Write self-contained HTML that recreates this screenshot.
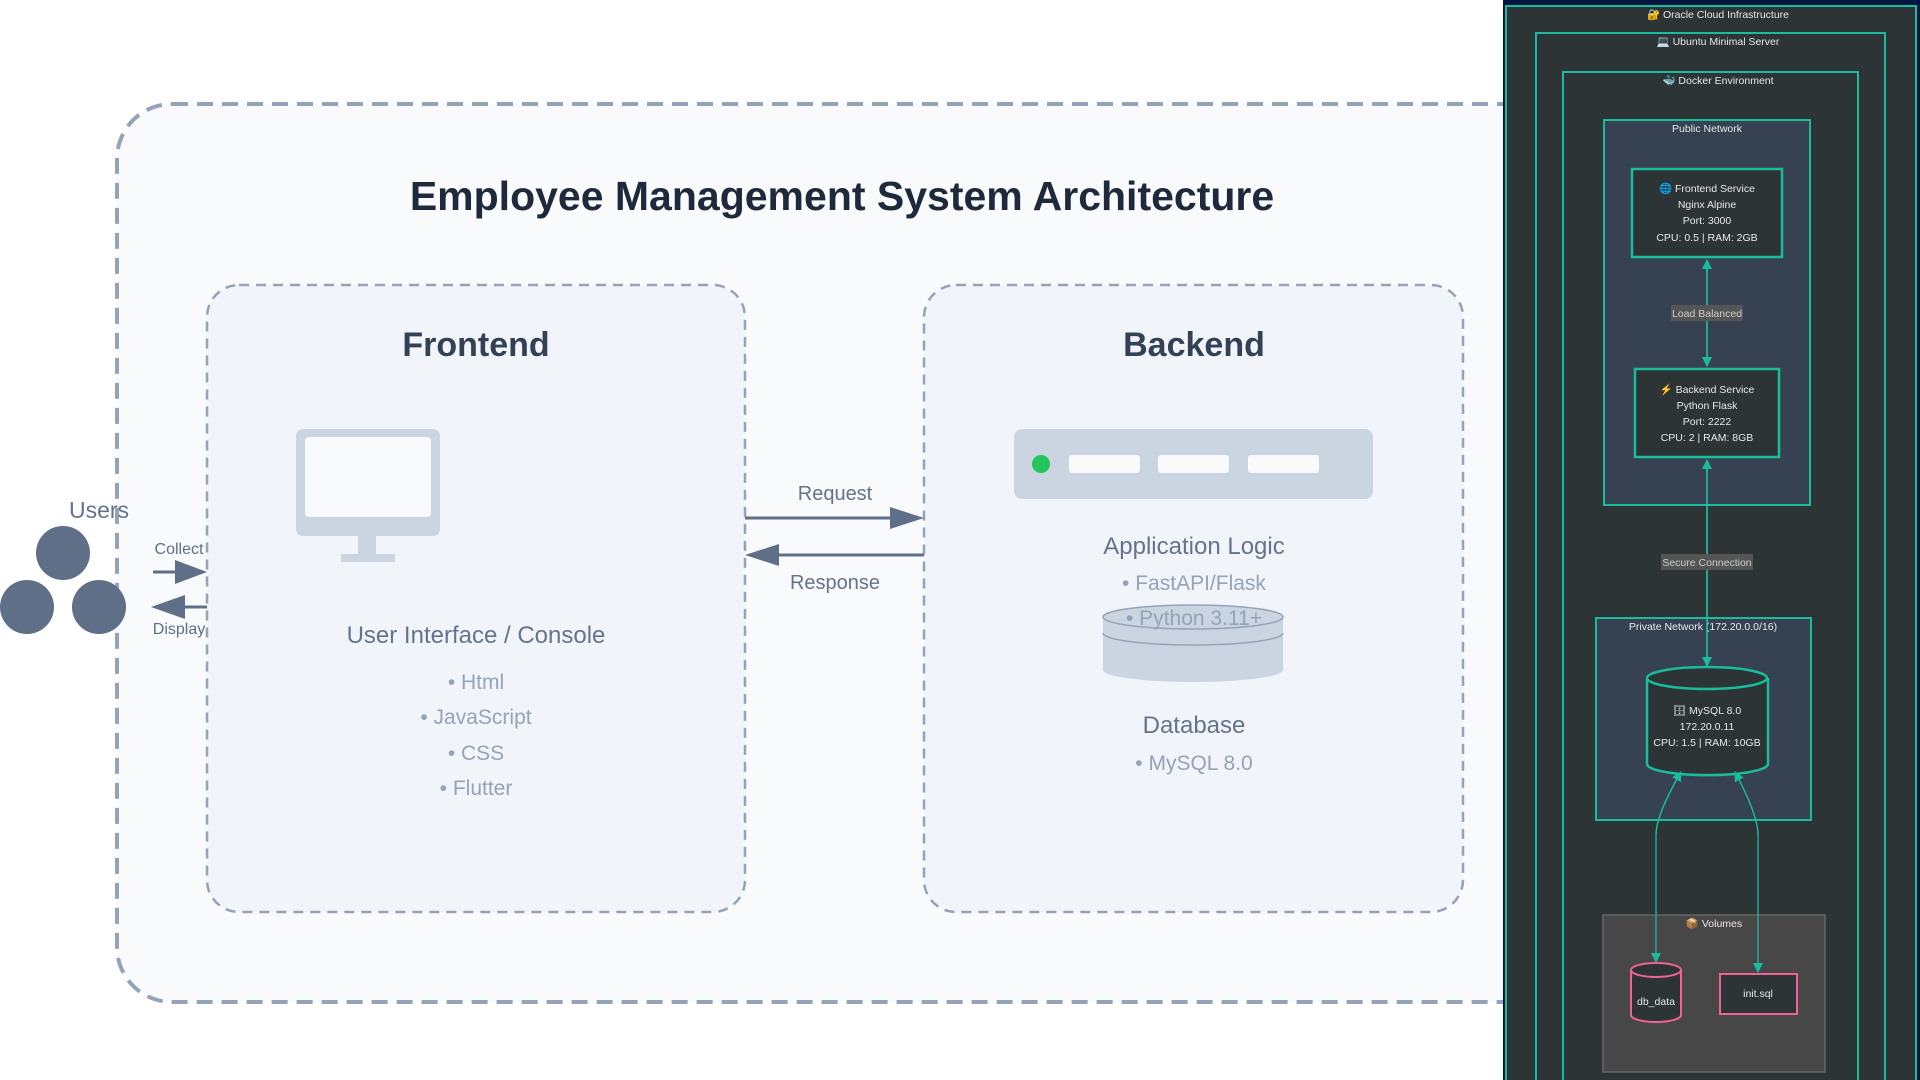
<!DOCTYPE html>
<html><head><meta charset="utf-8"><style>
html,body{margin:0;padding:0;width:1920px;height:1080px;overflow:hidden;background:#fff}
svg{display:block}
</style></head><body>
<svg width="1920" height="1080" viewBox="0 0 1920 1080" xmlns="http://www.w3.org/2000/svg" font-family="Liberation Sans, sans-serif">
<defs>
<marker id="ah" markerWidth="10" markerHeight="10" refX="9" refY="5" orient="auto" markerUnits="userSpaceOnUse"><path d="M0,0 L10,5 L0,10 z" fill="#1abc9c"/></marker>
</defs>
<!-- outer dashed -->
<rect x="117" y="104" width="1500" height="898" rx="55" fill="#f8fafc" stroke="#94a3b8" stroke-width="4" stroke-dasharray="16,9"/>
<text x="842" y="210" text-anchor="middle" font-size="41" font-weight="bold" fill="#1e293b">Employee Management System Architecture</text>
<!-- frontend -->
<rect x="207" y="285" width="538" height="627" rx="32" fill="#f1f5f9" stroke="#94a3b8" stroke-width="2.5" stroke-dasharray="10,7"/>
<text x="476" y="356" text-anchor="middle" font-size="34" font-weight="bold" fill="#334155">Frontend</text>
<rect x="296" y="429" width="144" height="107" rx="7" fill="#cbd5e1"/>
<rect x="305" y="437" width="126" height="80" rx="4" fill="#f8fafc"/>
<rect x="358" y="536" width="18" height="20" fill="#cbd5e1"/>
<rect x="341" y="554" width="54" height="8" fill="#cbd5e1"/>
<text x="476" y="643" text-anchor="middle" font-size="24" fill="#64748b">User Interface / Console</text>
<g font-size="21" fill="#94a3b8" text-anchor="middle">
<text x="476" y="689">• Html</text>
<text x="476" y="724">• JavaScript</text>
<text x="476" y="760">• CSS</text>
<text x="476" y="795">• Flutter</text>
</g>
<!-- backend -->
<rect x="924" y="285" width="539" height="627" rx="32" fill="#f1f5f9" stroke="#94a3b8" stroke-width="2.5" stroke-dasharray="10,7"/>
<text x="1194" y="356" text-anchor="middle" font-size="34" font-weight="bold" fill="#334155">Backend</text>
<rect x="1014" y="429" width="359" height="70" rx="8" fill="#cbd5e1"/>
<circle cx="1041" cy="464" r="9" fill="#22c55e"/>
<rect x="1069" y="455" width="71" height="18" rx="3" fill="#f8fafc"/>
<rect x="1158" y="455" width="71" height="18" rx="3" fill="#f8fafc"/>
<rect x="1248" y="455" width="71" height="18" rx="3" fill="#f8fafc"/>
<text x="1194" y="554" text-anchor="middle" font-size="24" fill="#64748b">Application Logic</text>
<path d="M1103,617 L1103,670 A90,12 0 0 0 1283,670 L1283,617 Z" fill="#cbd5e1"/>
<ellipse cx="1193" cy="617" rx="90" ry="12" fill="#cbd5e1" stroke="#94a3b8" stroke-width="1.5"/>
<path d="M1103,633 A90,12 0 0 0 1283,633" fill="none" stroke="#94a3b8" stroke-width="1.5"/>
<g font-size="21" fill="#94a3b8" text-anchor="middle">
<text x="1194" y="590">• FastAPI/Flask</text>
<text x="1194" y="625">• Python 3.11+</text>
<text x="1194" y="770">• MySQL 8.0</text>
</g>
<text x="1194" y="733" text-anchor="middle" font-size="24" fill="#64748b">Database</text>
<g stroke="#5f6f87" stroke-width="3" fill="#5f6f87">
<line x1="745" y1="518" x2="895" y2="518"/>
<path d="M890,507 L924,518 L890,529 Z" stroke="none"/>
<line x1="779" y1="555" x2="924" y2="555"/>
<path d="M779,544 L745,555 L779,566 Z" stroke="none"/>
</g>
<text x="835" y="500" text-anchor="middle" font-size="20" fill="#64748b">Request</text>
<text x="835" y="589" text-anchor="middle" font-size="20" fill="#64748b">Response</text>
<g fill="#5f6f87"><circle cx="63" cy="553" r="27"/><circle cx="27" cy="607" r="27"/><circle cx="99" cy="607" r="27"/></g>
<text x="99" y="518" text-anchor="middle" font-size="23" fill="#64748b">Users</text>
<g stroke="#5f6f87" stroke-width="3" fill="#5f6f87">
<line x1="153" y1="572" x2="180" y2="572"/><path d="M175,560 L207,572 L175,584 Z" stroke="none"/>
<line x1="185" y1="607" x2="207" y2="607"/><path d="M185,595 L151,607 L185,619 Z" stroke="none"/>
</g>
<text x="179" y="554" text-anchor="middle" font-size="16" fill="#5f6f87">Collect</text>
<text x="179" y="634" text-anchor="middle" font-size="16" fill="#5f6f87">Display</text>

<!-- right panel -->
<rect x="1503" y="0" width="417" height="1080" fill="#001540"/>
<rect x="1506" y="6" width="410" height="1080" fill="#2d3436" stroke="#1abc9c" stroke-width="2"/>
<rect x="1536" y="33" width="349" height="1060" fill="#2d3436" stroke="#1abc9c" stroke-width="2"/>
<rect x="1563" y="72" width="295" height="1030" fill="#2d3436" stroke="#1abc9c" stroke-width="2"/>
<g font-size="10.5" fill="#e8e8e8" text-anchor="middle">
<text x="1718" y="18">🔐 Oracle Cloud Infrastructure</text>
<text x="1718" y="45">💻 Ubuntu Minimal Server</text>
<text x="1718" y="84">🐳 Docker Environment</text>
</g>
<rect x="1604" y="120" width="206" height="385" fill="#364152" stroke="#1abc9c" stroke-width="2"/>
<text x="1707" y="132" text-anchor="middle" font-size="10.5" fill="#e8e8e8">Public Network</text>
<rect x="1632" y="169" width="150" height="88" fill="#2d3436" stroke="#1abc9c" stroke-width="2.5"/>
<g font-size="10.5" fill="#e8e8e8" text-anchor="middle">
<text x="1707" y="192">🌐 Frontend Service</text>
<text x="1707" y="208">Nginx Alpine</text>
<text x="1707" y="224">Port: 3000</text>
<text x="1707" y="241">CPU: 0.5 | RAM: 2GB</text>
</g>
<rect x="1635" y="369" width="144" height="88" fill="#2d3436" stroke="#1abc9c" stroke-width="2.5"/>
<g font-size="10.5" fill="#e8e8e8" text-anchor="middle">
<text x="1707" y="393">⚡ Backend Service</text>
<text x="1707" y="409">Python Flask</text>
<text x="1707" y="425">Port: 2222</text>
<text x="1707" y="441">CPU: 2 | RAM: 8GB</text>
</g>
<line x1="1707" y1="260" x2="1707" y2="366" stroke="#1abc9c" stroke-width="1.5" marker-end="url(#ah)"/>
<line x1="1707" y1="366" x2="1707" y2="260" stroke="#1abc9c" stroke-width="1.5" marker-end="url(#ah)"/>
<rect x="1671" y="305" width="72" height="16" fill="#555"/>
<text x="1707" y="317" text-anchor="middle" font-size="10.5" fill="#ccc">Load Balanced</text>
<rect x="1596" y="618" width="215" height="202" fill="#364152" stroke="#1abc9c" stroke-width="2"/>
<text x="1703" y="630" text-anchor="middle" font-size="10.5" fill="#e8e8e8">Private Network (172.20.0.0/16)</text>
<line x1="1707" y1="460" x2="1707" y2="666" stroke="#1abc9c" stroke-width="1.5" marker-end="url(#ah)"/>
<line x1="1707" y1="666" x2="1707" y2="460" stroke="#1abc9c" stroke-width="1.5" marker-end="url(#ah)"/>
<rect x="1661" y="554" width="92" height="16" fill="#555"/>
<text x="1707" y="566" text-anchor="middle" font-size="10.5" fill="#ccc">Secure Connection</text>
<path d="M1647,678 L1647,764 A60,11 0 0 0 1768,764 L1768,678" fill="#2d3436" stroke="#1abc9c" stroke-width="2.5"/>
<ellipse cx="1707" cy="678" rx="60" ry="11" fill="#2d3436" stroke="#1abc9c" stroke-width="2.5"/>
<g font-size="10.5" fill="#e8e8e8" text-anchor="middle">
<text x="1707" y="714">🗄 MySQL 8.0</text>
<text x="1707" y="730">172.20.0.11</text>
<text x="1707" y="746">CPU: 1.5 | RAM: 10GB</text>
</g>
<rect x="1603" y="915" width="222" height="157" fill="#474747" stroke="#666" stroke-width="1.5"/>
<text x="1714" y="927" text-anchor="middle" font-size="10.5" fill="#e8e8e8">📦 Volumes</text>
<path d="M1631,970 L1631,1015 A25,7 0 0 0 1681,1015 L1681,970" fill="#2d3436" stroke="#f06292" stroke-width="2"/>
<ellipse cx="1656" cy="970" rx="25" ry="7" fill="#2d3436" stroke="#f06292" stroke-width="2"/>
<text x="1656" y="1005" text-anchor="middle" font-size="10.5" fill="#e8e8e8">db_data</text>
<rect x="1720" y="974" width="77" height="40" fill="#2d3436" stroke="#f06292" stroke-width="2"/>
<text x="1758" y="997" text-anchor="middle" font-size="10.5" fill="#e8e8e8">init.sql</text>
<path d="M1681,772 Q1656,815 1656,835 L1656,962" fill="none" stroke="#1abc9c" stroke-width="1.3" marker-end="url(#ah)"/>
<path d="M1656,835 Q1656,815 1681,772" fill="none" stroke="#1abc9c" stroke-width="1.3" marker-end="url(#ah)"/>
<path d="M1735,772 Q1758,815 1758,835 L1758,972" fill="none" stroke="#1abc9c" stroke-width="1.3" marker-end="url(#ah)"/>
<path d="M1758,835 Q1758,815 1735,772" fill="none" stroke="#1abc9c" stroke-width="1.3" marker-end="url(#ah)"/>
</svg>
</body></html>
